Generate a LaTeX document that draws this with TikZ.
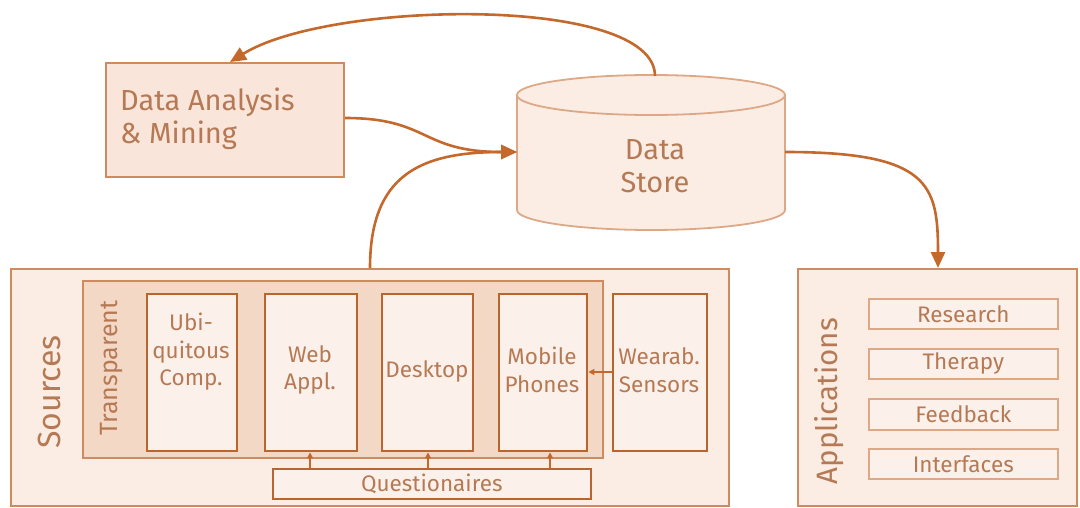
\documentclass[tikz,border=0pt]{standalone}
\usepackage{fontspec}
\setmainfont{Fira Sans}
\usetikzlibrary{arrows.meta}
\definecolor{ln}{HTML}{C4682C}
\definecolor{txt}{HTML}{B57A55}
\definecolor{fillA}{HTML}{FBEDE4}
\definecolor{fillD}{HTML}{F9E5D9}
\definecolor{fillT}{HTML}{F4D8C6}
\definecolor{fillI}{HTML}{FCF1EA}
\definecolor{bdr}{HTML}{CF8B5E}
\definecolor{bdrI}{HTML}{B9652F}
\definecolor{bdrL}{HTML}{DDA886}
\begin{document}
\begin{tikzpicture}[x=1pt,y=-1pt,
  every node/.style={text=txt, inner sep=0pt, align=center},
  outerbox/.style={draw=bdr, fill=fillA, line width=2pt},
  transbox/.style={draw=bdr, fill=fillT, line width=2pt},
  srcbox/.style={draw=bdrI, fill=fillI, line width=2.4pt},
  appbox/.style={draw=bdrL, fill=fillI, line width=1.6pt},
  bigtxt/.style={font=\fontsize{29}{33}\selectfont},
  midtxt/.style={font=\fontsize{22.5}{27.5}\selectfont},
  flow/.style={draw=ln, line width=2.6pt, -{Triangle[length=16pt,width=14pt]}},
  small/.style={draw=ln, line width=1.6pt, -{Triangle[length=6pt,width=6pt]}}
]
\useasboundingbox (0,0) rectangle (1080,508);
% Data Analysis
\node[outerbox, fill=fillD, minimum width=238pt, minimum height=114pt, anchor=north west] (da) at (105,62) {};
\node[bigtxt, align=left, anchor=west] (datxt) at (120,119) {Data Analysis\\\& Mining};
% Data Store cylinder
\path[fill=fillA, draw=bdrL, line width=1.8pt]
  (517,95) -- (517,210) arc[start angle=180, end angle=360, x radius=134pt, y radius=20pt]
  -- (785,95) -- cycle;
\draw[fill=fillA, draw=bdrL, line width=1.8pt] (651,95) ellipse [x radius=134pt, y radius=20pt];
\node[minimum width=268pt, minimum height=153pt, anchor=north west] (ds) at (517,75) {};
\node[bigtxt] (dstxt) at (655,166) {Data\\Store};
% Sources
\node[outerbox, minimum width=718pt, minimum height=237pt, anchor=north west] (src) at (10,268) {};
\node[font=\fontsize{32}{36}\selectfont, rotate=90] (srctxt) at (49,392) {Sources};
\node[transbox, minimum width=520pt, minimum height=177pt, anchor=north west] (tr) at (82,280) {};
\node[font=\fontsize{25}{28}\selectfont, rotate=90] (trtxt) at (112,368) {Transparent};
\node[srcbox, minimum width=90pt, minimum height=157pt, anchor=north west] (ubi) at (146,293) {};
\node[midtxt] at (191,352) {Ubi-\\quitous\\Comp.};
\node[srcbox, minimum width=92pt, minimum height=157pt, anchor=north west] (web) at (264,293) {};
\node[midtxt] at (310,370) {Web\\Appl.};
\node[srcbox, minimum width=91pt, minimum height=157pt, anchor=north west] (desk) at (381,293) {};
\node[midtxt] at (427,371) {Desktop};
\node[srcbox, minimum width=88pt, minimum height=157pt, anchor=north west] (mob) at (498,293) {};
\node[midtxt] at (542,370) {Mobile\\Phones};
\node[srcbox, minimum width=94pt, minimum height=157pt, anchor=north west] (wear) at (612,293) {};
\node[midtxt] at (659,370) {Wearab.\\Sensors};
\node[appbox, draw=bdrI, line width=1.6pt, minimum width=318pt, minimum height=30pt, anchor=north west] (q) at (272,468) {};
\node[midtxt] at (q) {Questionaires};
% Applications
\node[outerbox, minimum width=279pt, minimum height=237pt, anchor=north west] (app) at (797,268) {};
\node[font=\fontsize{29.5}{33}\selectfont, rotate=90] (apptxt) at (829,401) {Applications};
\node[appbox, minimum width=189pt, minimum height=30pt, anchor=north west] (res) at (868,298) {};
\node[midtxt] at (res) {Research};
\node[appbox, minimum width=189pt, minimum height=30pt, anchor=north west] (ther) at (868,348) {};
\node[midtxt] at (ther) {Therapy};
\node[appbox, minimum width=189pt, minimum height=31pt, anchor=north west] (feed) at (868,398) {};
\node[midtxt] at (feed) {Feedback};
\node[appbox, minimum width=189pt, minimum height=30pt, anchor=north west] (intf) at (868,448) {};
\node[midtxt] at (intf) {Interfaces};
% connectors
\coordinate (dstop) at (655,76);
\coordinate (datop) at (230,62);
\draw[flow] (dstop) .. controls (655,-5) and (330,0) .. (datop);
\coordinate (daout) at (345,118);
\coordinate (dsin) at (517,152);
\draw[flow] (daout) .. controls (430,118) and (420,152) .. (dsin);
\coordinate (srcout) at (370,268);
\draw[flow] (srcout) .. controls (370,175) and (420,152) .. (dsin);
\coordinate (dsout) at (785,152);
\coordinate (appin) at (938,268);
\draw[flow] (dsout) .. controls (930,152) and (938,185) .. (appin);
% questionnaire arrows
\draw[small] (q.north -| 310,0) -- (web.south -| 310,0);
\draw[small] (q.north -| 428,0) -- (desk.south -| 428,0);
\draw[small] (q.north -| 550,0) -- (mob.south -| 550,0);
\draw[small] (wear.west |- 0,372) -- (mob.east |- 0,372);
\end{tikzpicture}
\end{document}
